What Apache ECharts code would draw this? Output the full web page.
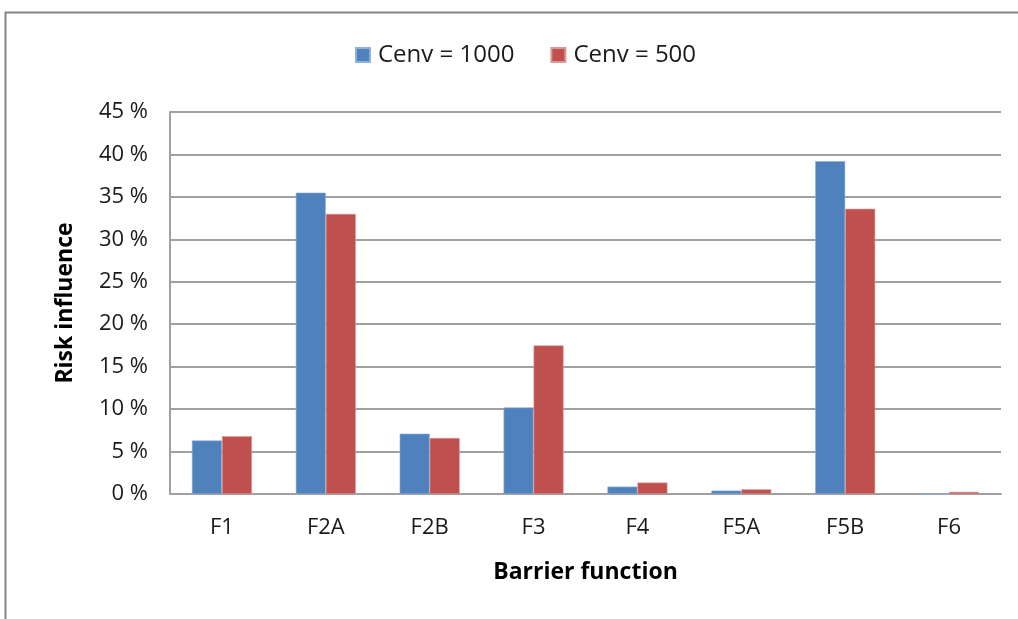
<!DOCTYPE html>
<html>
<head>
<meta charset="utf-8">
<script src="https://cdn.jsdelivr.net/npm/echarts@6/dist/echarts.min.js"></script>
<style>
html,body{margin:0;padding:0;background:#fff;}
#chart{width:1018px;height:619px;}
</style>
</head>
<body>
<div id="chart"></div>
<script>
const categories = ['F1', 'F2A', 'F2B', 'F3', 'F4', 'F5A', 'F5B', 'F6'];
const cenv1000 = [6.3, 35.5, 7.1, 10.2, 0.87, 0.4, 39.2, 0];
const cenv500 = [6.8, 33.0, 6.6, 17.5, 1.35, 0.55, 33.6, 0.25];
const seriesNames = ['Cenv = 1000', 'Cenv = 500'];
const yTicks = [0, 5, 10, 15, 20, 25, 30, 35, 40, 45];

const FONT = 'Open Sans';
const chart = echarts.init(document.getElementById('chart'), null, {renderer: 'canvas'});
chart.setOption({
  backgroundColor: '#ffffff',
  animation: false,
  graphic: [{
    type: 'rect',
    shape: {x: 5.5, y: 12.5, width: 1100, height: 700},
    style: {fill: 'none', stroke: '#868686', lineWidth: 2},
    silent: true
  }],
  legend: {
    data: seriesNames,
    top: 38,
    left: 350,
    itemWidth: 14,
    itemHeight: 14,
    itemGap: 36,
    icon: 'rect',
    textStyle: {fontFamily: FONT, fontSize: 24, color: '#1a1a1a', padding: [0, 0, 0, 3]}
  },
  grid: {left: 170, right: 17, top: 112, bottom: 125, containLabel: false},
  xAxis: {
    type: 'category',
    data: categories,
    name: 'Barrier function',
    nameLocation: 'middle',
    nameGap: 67,
    nameTextStyle: {fontFamily: FONT, fontSize: 23, fontWeight: 'bold', color: '#000'},
    axisLine: {show: true, lineStyle: {color: '#a0a0a0', width: 2}},
    axisTick: {show: false},
    axisLabel: {fontFamily: FONT, fontSize: 22, color: '#1a1a1a', margin: 23}
  },
  yAxis: {
    type: 'value',
    min: 0,
    max: 45,
    interval: 5,
    name: 'Risk influence',
    nameLocation: 'middle',
    nameGap: 93,
    nameTextStyle: {fontFamily: FONT, fontSize: 23, fontWeight: 'bold', color: '#000'},
    axisLine: {show: true, lineStyle: {color: '#a0a0a0', width: 2}},
    axisTick: {show: false},
    axisLabel: {
      fontFamily: FONT, fontSize: 22, color: '#1a1a1a', margin: 22,
      formatter: function (v) { return yTicks.indexOf(v) >= 0 ? v + ' %' : ''; }
    },
    splitLine: {show: true, lineStyle: {color: '#a0a0a0', width: 2}}
  },
  series: [
    {
      name: seriesNames[0],
      type: 'bar',
      data: cenv1000,
      barWidth: 30,
      barGap: '0%',
      itemStyle: {color: '#4f81bd', borderColor: '#8fb0d8', borderWidth: 0.6}
    },
    {
      name: seriesNames[1],
      type: 'bar',
      data: cenv500,
      barWidth: 30,
      barGap: '0%',
      itemStyle: {color: '#c0504d', borderColor: '#d89a98', borderWidth: 0.6}
    }
  ]
});
</script>
</body>
</html>
